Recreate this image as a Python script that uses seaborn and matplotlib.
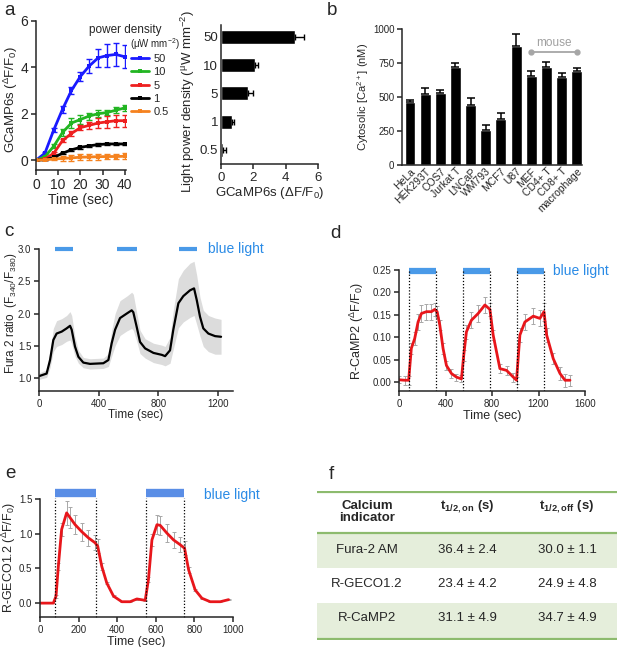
import matplotlib
matplotlib.use('Agg')
import matplotlib.pyplot as plt
import numpy as np
import pandas as pd
import seaborn as sns

sns.set_style('ticks')
plt.rcParams['font.family'] = ['Liberation Sans', 'DejaVu Sans']
plt.rcParams['mathtext.fontset'] = 'custom'
plt.rcParams['mathtext.rm'] = 'Liberation Sans'
plt.rcParams['mathtext.bf'] = 'Liberation Sans:bold'
plt.rcParams['mathtext.default'] = 'regular'

# --- panel a: GCaMP6s time course for each power density
time_a = [0, 4, 8, 12, 16, 20, 24, 28, 32, 36, 40]
power_labels = ['50', '10', '5', '1', '0.5']
power_colors = ['#1a1aff', '#22b522', '#ee2020', '#000000', '#f5821f']
gcamp_50 = [0, 0.3, 1.3, 2.2, 3.0, 3.6, 4.05, 4.4, 4.5, 4.55, 4.45]
gcamp_50_err = [0, 0.05, 0.1, 0.15, 0.15, 0.2, 0.3, 0.4, 0.5, 0.5, 0.5]
gcamp_10 = [0, 0.15, 0.6, 1.2, 1.6, 1.75, 1.9, 2.0, 2.05, 2.15, 2.25]
gcamp_10_err = [0, 0.03, 0.08, 0.15, 0.2, 0.2, 0.15, 0.15, 0.12, 0.12, 0.12]
gcamp_5 = [0, 0.05, 0.3, 0.85, 1.15, 1.4, 1.5, 1.6, 1.65, 1.7, 1.7]
gcamp_5_err = [0, 0.02, 0.05, 0.08, 0.1, 0.12, 0.15, 0.2, 0.25, 0.25, 0.25]
gcamp_1 = [0, 0.02, 0.12, 0.3, 0.45, 0.55, 0.62, 0.67, 0.7, 0.7, 0.7]
gcamp_1_err = [0, 0.01, 0.03, 0.04, 0.05, 0.05, 0.05, 0.05, 0.05, 0.05, 0.05]
gcamp_05 = [0, 0.02, 0.05, 0.08, 0.1, 0.13, 0.14, 0.15, 0.16, 0.16, 0.17]
gcamp_05_err = [0, 0.02, 0.05, 0.12, 0.12, 0.12, 0.12, 0.12, 0.12, 0.12, 0.12]

# panel a, bars: peak response
peak_vals = [4.57, 2.1, 1.66, 0.68, 0.12]
peak_err = [0.55, 0.2, 0.3, 0.1, 0.18]

# --- panel b: resting cytosolic calcium
cells = ['HeLa', 'HEK293T', 'COS7', 'Jurkat T', 'LNCaP', 'WM793', 'MCF7', 'U87',
         'MEF', 'CD4+ T', 'CD8+ T', 'macrophage']
ca_vals = [460, 525, 530, 720, 440, 255, 340, 875, 655, 720, 645, 690]
ca_err = [15, 40, 25, 30, 55, 40, 40, 90, 35, 35, 30, 25]

# --- panel c: Fura-2 ratio
c_time = [0, 51, 74, 96, 118, 152, 185, 208, 219, 241,
          264, 297, 342, 431, 465, 487, 510, 543, 588, 621,
          632, 655, 677, 711, 767, 823, 845, 878, 900, 934,
          967, 1012, 1039, 1057, 1079, 1101, 1135, 1180, 1220]
c_val = [1.03, 1.07, 1.28, 1.59, 1.69, 1.72, 1.77, 1.81, 1.75, 1.49,
         1.33, 1.24, 1.22, 1.23, 1.28, 1.54, 1.75, 1.93, 2.0, 2.05,
         2.02, 1.79, 1.56, 1.46, 1.39, 1.36, 1.34, 1.43, 1.75, 2.16,
         2.27, 2.36, 2.39, 2.21, 1.95, 1.77, 1.69, 1.65, 1.64]
c_err = [0.05, 0.06, 0.12, 0.18, 0.2, 0.2, 0.2, 0.22, 0.22, 0.15,
         0.1, 0.08, 0.08, 0.08, 0.1, 0.2, 0.25, 0.27, 0.27, 0.28,
         0.28, 0.22, 0.18, 0.15, 0.15, 0.15, 0.15, 0.2, 0.3, 0.38,
         0.4, 0.42, 0.42, 0.38, 0.3, 0.28, 0.28, 0.28, 0.27]
c_light = [(107, 230), (524, 660), (939, 1059)]

# --- panel d: R-CaMP2
d_time = [0, 49, 83, 106, 135, 164, 193, 236, 279, 307,
          328, 351, 379, 408, 451, 494, 537, 557, 580, 623,
          681, 739, 782, 810, 868, 925, 983, 1011, 1040, 1083,
          1155, 1212, 1247, 1270, 1327, 1385, 1428, 1471]
d_val = [0.005, 0.004, 0.004, 0.075, 0.097, 0.134, 0.153, 0.157, 0.157, 0.162,
         0.157, 0.127, 0.075, 0.037, 0.019, 0.011, 0.007, 0.06, 0.112, 0.138,
         0.153, 0.172, 0.162, 0.105, 0.03, 0.026, 0.011, 0.004, 0.105, 0.134,
         0.147, 0.142, 0.157, 0.105, 0.052, 0.019, 0.004, 0.004]
d_err = [0.008, 0.01, 0.01, 0.012, 0.015, 0.018, 0.018, 0.018, 0.018, 0.015,
         0.012, 0.012, 0.012, 0.01, 0.01, 0.008, 0.008, 0.012, 0.015, 0.018,
         0.018, 0.018, 0.015, 0.012, 0.01, 0.01, 0.01, 0.008, 0.015, 0.018,
         0.018, 0.018, 0.02, 0.015, 0.012, 0.015, 0.015, 0.012]
d_light = [(86, 322), (552, 785), (1012, 1248)]

# --- panel e: R-GECO1.2
e_time = [0, 35, 69, 83, 95, 112, 138, 156, 182, 216,
          251, 285, 299, 320, 346, 381, 424, 467, 502, 545,
          562, 580, 606, 623, 657, 692, 727, 749, 770, 804,
          839, 882, 934, 977]
e_val = [0, 0, 0, 0.1, 0.53, 1.06, 1.3, 1.23, 1.13, 1.03,
         0.94, 0.87, 0.82, 0.53, 0.29, 0.1, 0.02, 0.02, 0.06, 0.04,
         0.34, 0.91, 1.13, 1.12, 1.01, 0.91, 0.84, 0.79, 0.48, 0.19,
         0.07, 0.02, 0.02, 0.05]
e_err = [0, 0, 0, 0.02, 0.05, 0.1, 0.17, 0.15, 0.14, 0.13,
         0.12, 0.11, 0.1, 0.05, 0.02, 0.01, 0.01, 0.01, 0.01, 0.01,
         0.03, 0.08, 0.14, 0.14, 0.13, 0.12, 0.11, 0.1, 0.04, 0.02,
         0.01, 0.01, 0.01, 0.01]
e_light = [(80, 290), (548, 746)]

# --- panel f: table
indicators = ['Fura-2 AM', 'R-GECO1.2', 'R-CaMP2']
t_on = ['36.4 ± 2.4', '23.4 ± 4.2', '31.1 ± 4.9']
t_off = ['30.0 ± 1.1', '24.9 ± 4.8', '34.7 ± 4.9']

W, H = 617, 647
fig = plt.figure(figsize=(W / 100, H / 100), dpi=100)


def px_axes(l, t, r, b):
    return fig.add_axes([l / W, 1 - b / H, (r - l) / W, (b - t) / H])


def style(ax, fs):
    sns.despine(ax=ax)
    for s in ['left', 'bottom']:
        ax.spines[s].set_linewidth(1.1)
    ax.tick_params(labelsize=fs, length=3.5, width=1.1, pad=2)


LIGHT_BLUE = '#4a9ae8'
TEXT_BLUE = '#2a8be6'
RED = '#e8161b'

# a, time course
ax = px_axes(36, 20.7, 126, 170)
series = [(gcamp_50, gcamp_50_err), (gcamp_10, gcamp_10_err), (gcamp_5, gcamp_5_err),
          (gcamp_1, gcamp_1_err), (gcamp_05, gcamp_05_err)]
for (vals, err), lab, col in zip(series, power_labels, power_colors):
    sns.lineplot(x=time_a, y=vals, ax=ax, color=col, lw=2, marker='s',
                 markersize=2.5, markeredgewidth=0, label=lab)
    ax.errorbar(time_a, vals, yerr=err, fmt='none', ecolor=col, capsize=2,
                elinewidth=1, capthick=1)
ax.set_xlim(0, 40.6)
ax.set_ylim(-0.42, 6)
ax.set_xticks([0, 10, 20, 30, 40])
ax.set_yticks([0, 2, 4, 6])
ax.set_xlabel('Time (sec)', fontsize=10, labelpad=1)
ax.set_ylabel('GCaMP6s ($^{Δ}$F/F$_0$)', fontsize=9.5)
ax.yaxis.set_label_coords(-0.175, 0.47)
style(ax, 10)
ax.legend(loc='upper left', bbox_to_anchor=(131 / W, 1 - 54 / H),
          bbox_transform=fig.transFigure, frameon=False, fontsize=8,
          handlelength=1.6, handletextpad=0.4, labelspacing=0.3,
          borderaxespad=0, borderpad=0)
fig.text(125 / W, 1 - 30 / H, 'power density', fontsize=8.5, ha='center', va='center')
fig.text(155 / W, 1 - 44 / H, '(μW mm$^{-2}$)', fontsize=7, ha='center', va='center')

# a, bars
ax = px_axes(221, 25, 318, 164)
sns.barplot(x=peak_vals, y=power_labels, orient='h', color='black', width=0.5,
            errorbar=None, ax=ax, saturation=1)
ax.errorbar(peak_vals, range(len(peak_vals)), xerr=[[0] * len(peak_err), peak_err],
            fmt='none', ecolor='black', capsize=2.5, elinewidth=1, capthick=1)
ax.set_xlim(0, 6)
ax.set_ylim(4.5, -0.42)
ax.set_xticks([0, 2, 4, 6])
ax.set_xlabel('GCaMP6s (ΔF/F$_0$)', fontsize=9.5, labelpad=1)
ax.set_ylabel('Light power density ($^{μ}$W mm$^{-2}$)', fontsize=9.5)
ax.yaxis.set_label_coords(-0.245, 0.45)
style(ax, 9.5)
ax.tick_params(axis='y', length=0)

# b
ax = px_axes(402, 29, 582, 165)
sns.barplot(x=cells, y=ca_vals, color='black', width=0.72, errorbar=None, ax=ax,
            saturation=1)
ax.errorbar(range(len(cells)), ca_vals, yerr=[[0] * len(ca_err), ca_err], fmt='none',
            ecolor='black', capsize=3, elinewidth=1.1, capthick=1.1)
ax.set_xlim(-0.53, 11.35)
ax.set_ylim(0, 1000)
ax.set_yticks([0, 250, 500, 750, 1000])
ax.set_ylabel('Cytosolic [Ca$^{2+}$] (nM)', fontsize=8)
ax.yaxis.set_label_coords(-0.175, 0.5)
style(ax, 7)
ax.tick_params(axis='x', length=0, pad=1, labelsize=7.5)
plt.setp(ax.get_xticklabels(), rotation=45, ha='right', rotation_mode='anchor')
ax.plot([8, 11], [830, 830], color='#a6a6a6', lw=1.3, marker='o', markersize=3.5,
        clip_on=False)
ax.text(9.5, 900, 'mouse', color='#a0a0a0', fontsize=8.5, ha='center', va='center')

# c
ax = px_axes(39, 249, 233, 391)
ax.fill_between(c_time, np.array(c_val) - np.array(c_err), np.array(c_val) + np.array(c_err),
                color='#dcdcdc', lw=0)
sns.lineplot(x=c_time, y=c_val, ax=ax, color='black', lw=1.6)
for s, e in c_light:
    ax.plot([s, e], [3.0, 3.0], color=LIGHT_BLUE, lw=3, solid_capstyle='butt', clip_on=False)
ax.text(1133, 3.0, 'blue light', color=TEXT_BLUE, fontsize=10, va='center')
ax.set_xlim(0, 1300)
ax.set_ylim(0.8, 3.0)
ax.set_xticks([0, 400, 800, 1200])
ax.set_yticks([1.0, 1.5, 2.0, 2.5, 3.0])
ax.set_yticklabels(['1.0', '1.5', '2.0', '2.5', '3.0'])
ax.set_xlabel('Time (sec)', fontsize=8.5, labelpad=0)
ax.set_ylabel('Fura 2 ratio  (F$_{340}$/F$_{380}$)', fontsize=8.5)
ax.yaxis.set_label_coords(-0.105, 0.55)
style(ax, 7)

# d
ax = px_axes(399, 270, 585, 391)
ax.errorbar(d_time, d_val, yerr=d_err, fmt='none', ecolor='#a8a8a8', capsize=1.5,
            elinewidth=0.7, capthick=0.7)
sns.lineplot(x=d_time, y=d_val, ax=ax, color=RED, lw=2)
for s, e in d_light:
    ax.plot([s, e], [0.248, 0.248], color=LIGHT_BLUE, lw=4.5, solid_capstyle='butt',
            clip_on=False)
    for xx in (s, e):
        ax.plot([xx, xx], [-0.02, 0.25], color='black', lw=0.9, ls=(0, (1, 1.5)))
ax.text(1325, 0.248, 'blue light', color=TEXT_BLUE, fontsize=10, va='center')
ax.set_xlim(0, 1600)
ax.set_ylim(-0.02, 0.25)
ax.set_xticks([0, 400, 800, 1200, 1600])
ax.set_yticks([0, 0.05, 0.10, 0.15, 0.20, 0.25])
ax.set_yticklabels(['0.00', '0.05', '0.10', '0.15', '0.20', '0.25'])
ax.set_xlabel('Time (sec)', fontsize=9, labelpad=1)
ax.set_ylabel('R-CaMP2 ($^{Δ}$F/F$_0$)', fontsize=9)
ax.yaxis.set_label_coords(-0.18, 0.5)
style(ax, 7)

# e
ax = px_axes(40, 499, 233, 617)
ax.errorbar(e_time, e_val, yerr=e_err, fmt='none', ecolor='#a8a8a8', capsize=1.5,
            elinewidth=0.7, capthick=0.7)
sns.lineplot(x=e_time, y=e_val, ax=ax, color=RED, lw=2)
for s, e in e_light:
    ax.plot([s, e], [1.58, 1.58], color='#5a8ee6', lw=6, solid_capstyle='butt',
            clip_on=False)
    for xx in (s, e):
        ax.plot([xx, xx], [-0.2, 1.52], color='black', lw=0.9, ls=(0, (1, 1.5)),
                clip_on=False)
ax.text(850, 1.56, 'blue light', color=TEXT_BLUE, fontsize=10, va='center')
ax.set_xlim(0, 1000)
ax.set_ylim(-0.2, 1.5)
ax.set_xticks([0, 200, 400, 600, 800, 1000])
ax.set_yticks([0, 0.5, 1.0, 1.5])
ax.set_yticklabels(['0.0', '0.5', '1.0', '1.5'])
ax.set_xlabel('Time (sec)', fontsize=9, labelpad=1)
ax.set_ylabel('R-GECO1.2 ($^{Δ}$F/F$_0$)', fontsize=9)
ax.yaxis.set_label_coords(-0.115, 0.5)
style(ax, 7)

# f, table
ax = px_axes(317, 491, 617, 640)
ax.set_xlim(317, 617)
ax.set_ylim(640, 491)
ax.axis('off')
GREEN_LINE = '#8dbb6e'
GREEN_BG = '#e5eedb'
ax.axhspan(533, 568, color=GREEN_BG, lw=0)
ax.axhspan(603, 639, color=GREEN_BG, lw=0)
for yy in (491.5, 533, 639):
    ax.axhline(yy, color=GREEN_LINE, lw=1.6)
col_x = [367, 467, 567]
ax.text(col_x[0], 512, 'Calcium\nindicator', ha='center', va='center', fontsize=9.5,
        fontweight='bold', linespacing=1.05)
ax.text(col_x[1], 507, 't$_{\\mathbf{1/2,on}}$ (s)', ha='center', va='center', fontsize=9.5,
        fontweight='bold')
ax.text(col_x[2], 507, 't$_{\\mathbf{1/2,off}}$ (s)', ha='center', va='center', fontsize=9.5,
        fontweight='bold')
row_y = [550, 584, 618]
for yy, name, on, off in zip(row_y, indicators, t_on, t_off):
    ax.text(col_x[0], yy, name, ha='center', va='center', fontsize=9.5)
    ax.text(col_x[1], yy, on, ha='center', va='center', fontsize=9.5)
    ax.text(col_x[2], yy, off, ha='center', va='center', fontsize=9.5)

# panel letters
for letter, x, y in [('a', 4, 15), ('b', 327, 15), ('c', 4, 236), ('d', 330, 238),
                     ('e', 5, 478), ('f', 329, 479)]:
    fig.text(x / W, 1 - y / H, letter, fontsize=13.5, va='baseline', ha='left')

fig.savefig('out.png', dpi=100)
